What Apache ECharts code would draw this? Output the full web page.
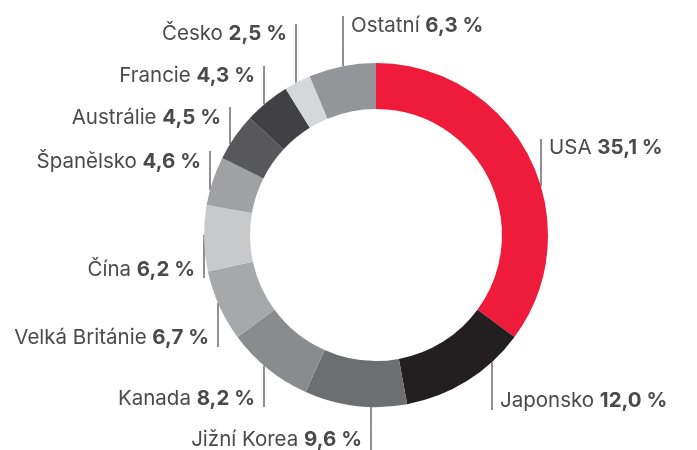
<!DOCTYPE html>
<html>
<head>
<meta charset="utf-8">
<script src="https://cdn.jsdelivr.net/npm/echarts@6/dist/echarts.min.js"></script>
<style>
  html, body { margin: 0; padding: 0; background: #fff; }
  #chart { width: 697px; height: 450px; }
</style>
</head>
<body>
<div id="chart"></div>
<script>
// podíly zemí (v %), po směru hodinových ručiček od 12 h
const countries = ['USA', 'Japonsko', 'Jižní Korea', 'Kanada', 'Velká Británie', 'Čína',
                   'Španělsko', 'Austrálie', 'Francie', 'Česko', 'Ostatní'];
const shares = [35.1, 12.0, 9.6, 8.2, 6.7, 6.2, 4.6, 4.5, 4.3, 2.5, 6.3];

// barvy výsečí
const sliceColors = ['#ee1b3a', '#231f20', '#6d6e70', '#8a8b8d', '#a7a8aa', '#c8c9cb',
                     '#a0a1a3', '#58585a', '#414042', '#d6d7d9', '#939598'];

// rozmístění popisků: [x svislé čáry, střed textu y, konec čáry y, zarovnání textu]
const labelSpots = [
  [541, 148, 139, 'left'],
  [492, 401, 410, 'left'],
  [371, 440, 450, 'right'],
  [264, 399, 407, 'right'],
  [218, 338, 347, 'right'],
  [204, 270, 278, 'right'],
  [210, 162, 151, 'right'],
  [230, 118, 107, 'right'],
  [264, 76, 66, 'right'],
  [296, 34, 24, 'right'],
  [343, 26, 16, 'left'],
];

const CX = 376, CY = 235, R_IN = 126, R_OUT = 172;
const fmt = v => v.toFixed(1).replace('.', ',') + ' %';

const chart = echarts.init(document.getElementById('chart'), null, { renderer: 'canvas' });

chart.setOption({
  animation: false,
  textStyle: { fontFamily: 'Inter, "Noto Sans", sans-serif' },
  series: [{
    type: 'pie',
    center: [CX, CY],
    radius: [R_IN, R_OUT],
    startAngle: 90,
    clockwise: true,
    avoidLabelOverlap: false,
    data: countries.map((c, i) => ({ name: c, value: shares[i], itemStyle: { color: sliceColors[i] } })),
    itemStyle: { borderWidth: 0 },
    emphasis: { disabled: true },
    label: {
      show: true,
      position: 'outside',
      formatter: p => `{n|${p.name} }{v|${fmt(p.value)}}`,
      rich: {
        n: { fontSize: 20.5, color: '#4a4a4c', fontFamily: 'Inter' },
        v: { fontSize: 20.5, color: '#4a4a4c', fontWeight: 'bold', fontFamily: 'Inter' },
      },
    },
    labelLine: { show: true, length: 10, length2: 10, smooth: false,
                 lineStyle: { color: '#231f20', width: 1 } },
    labelLayout: (p) => {
      const [lx, ty, ey, align] = labelSpots[p.dataIndex];
      const dy = Math.sqrt(Math.max(0, R_OUT * R_OUT - (lx - CX) * (lx - CX)));
      const sy = ey > CY ? CY + dy : CY - dy;          // bod na vnějším okraji prstence
      return {
        x: align === 'left' ? lx + 8 : lx - 9,
        y: ty,
        align,
        verticalAlign: 'middle',
        labelLinePoints: [[lx, sy], [lx, (sy + ey) / 2], [lx, ey]],
      };
    },
  }],
});
</script>
</body>
</html>
